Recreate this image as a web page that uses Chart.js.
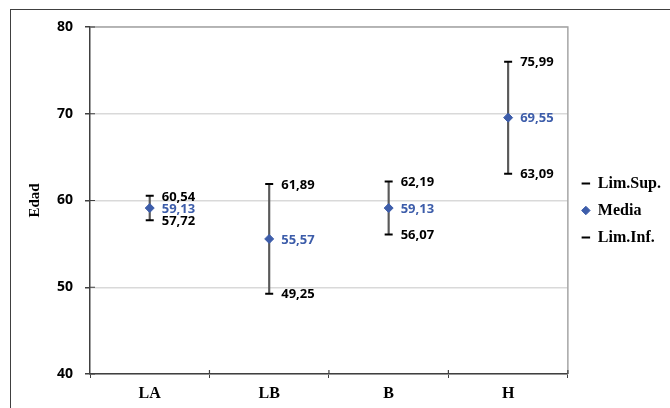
<!DOCTYPE html>
<html>
<head>
<meta charset="utf-8">
<script src="https://cdn.jsdelivr.net/npm/chart.js@4.4.1/dist/chart.umd.min.js"></script>
<style>
  html, body { margin:0; padding:0; width:670px; height:408px; overflow:hidden; background:#fff; }
  #frame { position:absolute; left:10px; top:9px; width:700px; height:420px; border:1px solid #404040; }
  #wrap { position:absolute; left:0; top:0; width:670px; height:408px; }
</style>
</head>
<body>
<div id="frame"></div>
<div id="wrap"><canvas id="chart"></canvas></div>
<script>
// datos
const categorias = ["LA", "LB", "B", "H"];
const limSup = [60.54, 61.89, 62.19, 75.99];
const media = [59.13, 55.57, 59.13, 69.55];
const limInf = [57.72, 49.25, 56.07, 63.09];
const yTicks = [40, 50, 60, 70, 80];

const azul = "#3d5daa";
const serif = "'Liberation Serif', 'Times New Roman', serif";
const sans = "'Open Sans', sans-serif";

// rango como barra flotante fina
const rango = limInf.map((v, i) => [v, limSup[i]]);

// etiquetas de valores
const etiquetas = {
  id: "etiquetas",
  afterDatasetsDraw(chart) {
    const ctx = chart.ctx;
    ctx.save();
    ctx.font = "bold 13px " + sans;
    ctx.textAlign = "left";
    ctx.textBaseline = "middle";
    [0, 1, 2].forEach(d => {
      const meta = chart.getDatasetMeta(d);
      const vals = chart.data.datasets[d].data;
      ctx.fillStyle = d === 1 ? azul : "#000";
      meta.data.forEach((pt, i) => {
        ctx.fillText(vals[i].toFixed(2).replace(".", ","), pt.x + 12, pt.y + 1);
      });
    });
    ctx.restore();
  }
};

// marco gris del area y marcas que cruzan los ejes
const marco = {
  id: "marco",
  afterLayout(chart) {
    // correr la leyenda a la derecha y hacia arriba
    chart.legend.left += 3;
    chart.legend.right += 3;
    chart.legend.top -= 7;
    chart.legend.bottom -= 7;
  },
  beforeDatasetsDraw(chart) {
    const { ctx, chartArea: a, scales } = chart;
    ctx.save();
    ctx.strokeStyle = "#a6a6a6";
    ctx.lineWidth = 1.5;
    ctx.beginPath();
    ctx.moveTo(a.left, a.top);
    ctx.lineTo(a.right, a.top);
    ctx.lineTo(a.right, a.bottom);
    ctx.stroke();
    ctx.strokeStyle = "#404040";
    ctx.lineWidth = 1.2;
    ctx.beginPath();
    yTicks.forEach(v => {
      const y = scales.y.getPixelForValue(v);
      ctx.moveTo(a.left, y);
      ctx.lineTo(a.left + 5, y);
    });
    const w = (a.right - a.left) / categorias.length;
    for (let i = 1; i <= categorias.length; i++) {
      const x = a.left + w * i;
      ctx.moveTo(x, a.bottom);
      ctx.lineTo(x, a.bottom - 4);
    }
    ctx.stroke();
    ctx.restore();
  }
};

new Chart(document.getElementById("chart"), {
  type: "bar",
  data: {
    labels: categorias,
    datasets: [
      { type: "line", label: "Lim.Sup.", data: limSup, showLine: false,
        pointStyle: "line", pointRadius: 4, pointHoverRadius: 4, borderWidth: 2,
        borderColor: "#000", backgroundColor: "#000", order: 1 },
      { type: "line", label: "Media", data: media, showLine: false,
        pointStyle: "rectRot", pointRadius: 4.5, pointHoverRadius: 4.5, borderWidth: 1,
        borderColor: azul, backgroundColor: azul, order: 0 },
      { type: "line", label: "Lim.Inf.", data: limInf, showLine: false,
        pointStyle: "line", pointRadius: 4, pointHoverRadius: 4, borderWidth: 2,
        borderColor: "#000", backgroundColor: "#000", order: 1 },
      { type: "bar", label: "rango", data: rango, barThickness: 1.5,
        backgroundColor: "#595959", borderWidth: 0, order: 5 }
    ]
  },
  options: {
    responsive: true,
    maintainAspectRatio: false,
    animation: false,
    layout: { padding: { left: 26, right: 2, top: 27, bottom: 0 } },
    plugins: {
      tooltip: { enabled: false },
      legend: {
        position: "right",
        labels: {
          filter: item => item.text !== "rango",
          sort: (a, b) => a.datasetIndex - b.datasetIndex,
          usePointStyle: true,
          boxWidth: 8,
          boxHeight: 6,
          padding: 11,
          color: "#000",
          font: { family: serif, size: 16, weight: "bold" }
        }
      }
    },
    scales: {
      x: {
        offset: true,
        afterFit: s => { s.height = 34; },
        grid: { offset: true, drawOnChartArea: false, drawTicks: true, tickLength: 4, color: "#404040" },
        border: { color: "#404040", width: 1.5 },
        ticks: { color: "#000", padding: 6, font: { family: serif, size: 16, weight: "bold" } }
      },
      y: {
        min: 40,
        max: 80,
        afterFit: s => { s.width = 64; },
        afterBuildTicks: s => { s.ticks = yTicks.map(v => ({ value: v })); },
        grid: { color: "#d9d9d9", lineWidth: 1.5, tickLength: 5, tickColor: "#404040" },
        border: { color: "#404040", width: 1.5 },
        ticks: { color: "#000", padding: 12, font: { family: sans, size: 14, weight: "bold" } },
        title: { display: true, text: "Edad", color: "#000", padding: { top: 0, bottom: 0 },
                 font: { family: serif, size: 15, weight: "bold" } }
      }
    }
  },
  plugins: [marco, etiquetas]
});
</script>
</body>
</html>
